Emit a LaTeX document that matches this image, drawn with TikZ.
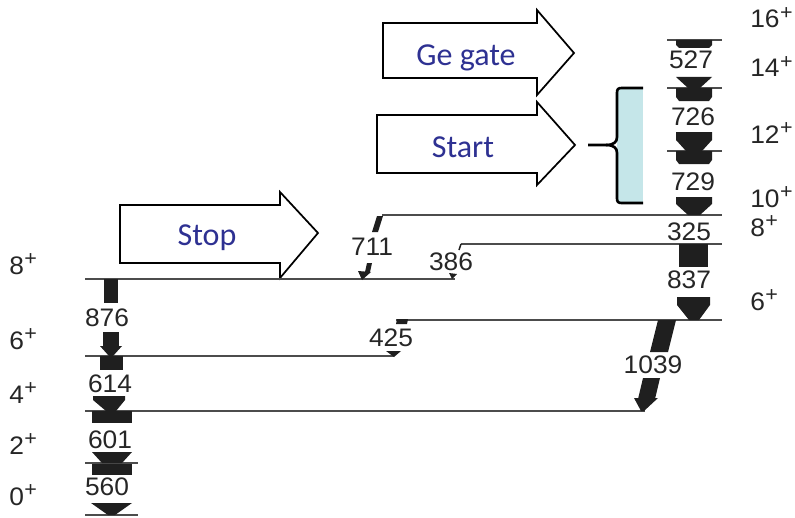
\documentclass[tikz,border=0pt]{standalone}
\usepackage{fontspec}
\setmainfont{Liberation Sans}
\newfontfamily\numfont[FakeStretch=1.04]{Liberation Sans}
\newfontfamily\calfont{Carlito}
\definecolor{boxblue}{RGB}{46,49,146}
\definecolor{bracecyan}{RGB}{197,230,233}
\newcommand\jpi[1]{#1\kern0.02em\raisebox{0.33em}{\fontsize{15.5}{15.5}\selectfont +}}
\begin{document}
\begin{tikzpicture}[x=0.75pt,y=-0.75pt,
 lvl/.style={draw=black!70,line width=1.1pt},
 gam/.style={fill=black!88,draw=none},
 thin/.style={draw=black!88,line width=1.1pt},
 elab/.style={font=\numfont\fontsize{19}{19}\selectfont,text=black!85,inner sep=0pt},
 spin/.style={elab,anchor=base west},
 bigarrow/.style={draw=black,line width=1.3pt,fill=white,line join=miter},
 btext/.style={font=\calfont\fontsize{24}{24}\selectfont,text=boxblue,anchor=base,inner sep=0pt}]
\useasboundingbox (0,0) rectangle (795,517);

% ---- big white arrows
\draw[bigarrow] (383,23) -- (537,23) -- (537,10) -- (574,53) -- (537,95) -- (537,78) -- (383,78) -- cycle;
\node[btext] (ge) at (466,65) {Ge gate};
\draw[bigarrow] (377,115) -- (537,115) -- (537,102) -- (575,145) -- (537,185) -- (537,173) -- (377,173) -- cycle;
\node[btext] (start) at (463,157) {Start};
\draw[bigarrow] (120,205) -- (280,205) -- (280,192) -- (318,233) -- (280,278) -- (280,263) -- (120,263) -- cycle;
\node[btext] (stop) at (207,245) {Stop};

% ---- bracket
\fill[bracecyan] (617,88) rectangle (643,203);
\draw[line width=2pt,line join=round]
  (643,88) -- (622,88) .. controls (618,88) and (617,89) .. (617,93) -- (617,137)
  .. controls (617,142) and (614,145) .. (606,145) -- (588,145);
\draw[line width=2pt,line join=round]
  (606,145) .. controls (614,145) and (617,148) .. (617,153) -- (617,198)
  .. controls (617,202) and (618,203) .. (622,203) -- (643,203);

% ---- level lines
\coordinate (a16) at (667,40);  \coordinate (b16) at (722,40);
\coordinate (a14) at (667,88);  \coordinate (b14) at (722,88);
\coordinate (a12) at (667,151); \coordinate (b12) at (722,151);
\coordinate (a10) at (382,215); \coordinate (b10) at (722,215);
\coordinate (a8r) at (461,244); \coordinate (b8r) at (722,244);
\coordinate (a6r) at (396,320); \coordinate (b6r) at (722,320);
\coordinate (a8l) at (85,279);  \coordinate (b8l) at (455,279);
\coordinate (a6l) at (85,356);  \coordinate (b6l) at (394,356);
\coordinate (a4)  at (85,411);  \coordinate (b4)  at (645,411);
\coordinate (a2)  at (85,463);  \coordinate (b2)  at (138,463);
\coordinate (a0)  at (85,515);  \coordinate (b0)  at (138,515);
\foreach \p in {16,14,12,10,8r,6r,8l,6l,4,2,0} \draw[lvl] (a\p) -- (b\p);

% ---- right cascade
\fill[gam] (676,40) -- (712,40) -- (712,45) -- (709,48) -- (679,48) -- (676,45) -- cycle;
\node[elab] (g527) at (691,60) {527};
\fill[gam] (676,77) -- (712,77) -- (700,88) -- (688,88) -- cycle;
\fill[gam] (676,88) -- (712,88) -- (712,97) -- (709,101) -- (679,101) -- (676,97) -- cycle;
\node[elab] (g726) at (693,117) {726};
\fill[gam] (676,132) -- (712,132) -- (712,140) -- (702,151) -- (686,151) -- (676,140) -- cycle;
\fill[gam] (676,151) -- (712,151) -- (712,160) -- (709,164) -- (679,164) -- (676,160) -- cycle;
\node[elab] (g729) at (693,182) {729};
\fill[gam] (676,197) -- (712,197) -- (712,204) -- (700,215) -- (688,215) -- (676,204) -- cycle;
\node[elab] (g325) at (689,232) {325};
\fill[gam] (679,244) rectangle (708,267);
\node[elab] (g837) at (689,280) {837};
\fill[gam] (677,297) -- (710,297) -- (710,305) -- (699,320) -- (689,320) -- (677,305) -- cycle;

% ---- left cascade
\fill[gam] (104,279) rectangle (118,303);
\node[elab] (g876) at (107,318) {876};
\fill[gam] (103,332) rectangle (119,346);
\fill[gam] (100,346) -- (122,346) -- (113,356) -- (109,356) -- cycle;
\fill[gam] (100,356) rectangle (123,370);
\node[elab] (g614) at (110,384) {614};
\fill[gam] (93,396) -- (125,396) -- (125,400) -- (116,411) -- (106,411) -- (93,400) -- cycle;
\fill[gam] (92,411) rectangle (132,423);
\node[elab] (g601) at (110,440) {601};
\fill[gam] (92,452) -- (132,452) -- (122,463) -- (102,463) -- cycle;
\fill[gam] (92,464) rectangle (132,475);
\node[elab] (g560) at (107,487) {560};
\fill[gam] (91,503) -- (132,503) -- (115,515) -- (108,515) -- cycle;

% ---- cross transitions
% 711
\fill[gam] (377,216) -- (383,216) -- (378,232) -- (372,232) -- cycle;
\node[elab] (g711) at (372,247) {711};
\fill[gam] (367,263) -- (372,263) -- (370,272) -- (365,272) -- cycle;
\fill[gam] (358,271) -- (371,272) -- (362,280) -- cycle;
% 386
\draw[thin] (461,244) -- (459,250);
\node[elab] (g386) at (451,262) {386};
\fill[gam] (449,273) -- (457,274) -- (452,279) -- cycle;
% 425
\fill[gam] (397,319) -- (408,319) -- (407,324) -- (396,324) -- cycle;
\node[elab] (g425) at (391,338) {425};
\fill[gam] (386,351) -- (401,351) -- (394,357) -- cycle;
% 1039
\fill[gam] (658,320) -- (676,320) -- (668,352) -- (650,352) -- cycle;
\node[elab] (g1039) at (653,365) {1039};
\fill[gam] (643,378) -- (660,378) -- (655,399) -- (638,399) -- cycle;
\fill[gam] (634,398) -- (658,398) -- (644,411) -- (641,411) -- cycle;

% ---- spin labels
\node[spin] (s16) at (750,28)  {\jpi{16}};
\node[spin] (s14) at (750,77)  {\jpi{14}};
\node[spin] (s12) at (750,143) {\jpi{12}};
\node[spin] (s10) at (750,207) {\jpi{10}};
\node[spin] (s8r) at (750,236) {\jpi{8}};
\node[spin] (s6r) at (750,310) {\jpi{6}};
\node[spin] (s8l) at (9,274)   {\jpi{8}};
\node[spin] (s6l) at (9,349)   {\jpi{6}};
\node[spin] (s4)  at (9,403)   {\jpi{4}};
\node[spin] (s2)  at (9,454)   {\jpi{2}};
\node[spin] (s0)  at (9,505)   {\jpi{0}};
\end{tikzpicture}
\end{document}
